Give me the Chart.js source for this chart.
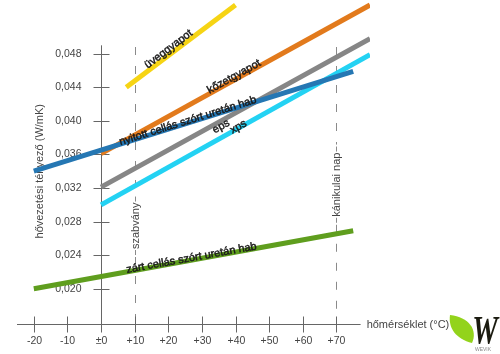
<!DOCTYPE html>
<html>
<head>
<meta charset="utf-8">
<script src="https://cdn.jsdelivr.net/npm/chart.js@4.4.0/dist/chart.umd.min.js"></script>
<style>
  html, body { margin: 0; padding: 0; background: #fff; }
  #wrap { width: 500px; height: 354px; }
</style>
</head>
<body>
<div id="wrap"><canvas id="chart" width="500" height="354"></canvas></div>
<script>
// tick values and their labels
const xTicks = [-20, -10, 0, 10, 20, 30, 40, 50, 60, 70];
const xTickLabels = ['-20', '-10', '±0', '+10', '+20', '+30', '+40', '+50', '+60', '+70'];
const yTicks = [0.020, 0.024, 0.028, 0.032, 0.036, 0.040, 0.044, 0.048];
const yTickLabels = ['0,020', '0,024', '0,028', '0,032', '0,036', '0,040', '0,044', '0,048'];

// series (temperature °C -> thermal conductivity W/mK)
const uveggyapot = [{ x: 7.5, y: 0.0440 }, { x: 40, y: 0.0538 }];
const kozetgyapot = [{ x: 0, y: 0.0361 }, { x: 80, y: 0.0538 }];
const eps = [{ x: 0, y: 0.0321 }, { x: 80, y: 0.0498 }];
const xps = [{ x: 0, y: 0.0300 }, { x: 80, y: 0.0479 }];
const nyitottCellas = [{ x: -20, y: 0.0340 }, { x: 75, y: 0.0459 }];
const zartCellas = [{ x: -20, y: 0.0200 }, { x: 75, y: 0.0269 }];

const xTitle = 'hőmérséklet (°C)';
const yTitle = 'hővezetési tényező (W/mK)';

// reference temperatures
const markerX = [10, 70];
const markerText = ['szabvány', 'kánikulai nap'];

const FONT = '"Liberation Sans", Arial, sans-serif';

// text along lines: dataset index, x value of the centre, perpendicular shift in px
const lineLabels = [
  { ds: 0, text: 'üveggyapot', at: 21, shift: -5 },
  { ds: 1, text: 'kőzetgyapot', at: 40, shift: -3 },
  { ds: 2, text: 'eps', at: 35, shift: 5 },
  { ds: 3, text: 'xps', at: 41, shift: -1 },
  { ds: 4, text: 'nyitott cellás szórt uretán hab', at: 26, shift: -2 },
  { ds: 5, text: 'zárt cellás szórt uretán hab', at: 27, shift: -2 }
];

function seg(ctx, x1, y1, x2, y2) {
  ctx.beginPath();
  ctx.moveTo(x1, y1);
  ctx.lineTo(x2, y2);
  ctx.stroke();
}

const axesPlugin = {
  id: 'axes',
  beforeDatasetsDraw(chart) {
    const { ctx, scales: { x, y } } = chart;
    const x0 = Math.round(x.getPixelForValue(0)) + 0.5;
    const yb = Math.round(y.getPixelForValue(y.min)) + 0.5;
    ctx.save();

    // dashed reference lines with vertical captions
    ctx.font = '11px ' + FONT;
    markerX.forEach((mx, i) => {
      const px = Math.round(x.getPixelForValue(mx)) + 0.5;
      const top = y.getPixelForValue(0.0488);
      const mid = i === 0 ? y.getPixelForValue(0.0275) : y.getPixelForValue(0.0324);
      const w = ctx.measureText(markerText[i]).width;
      ctx.strokeStyle = '#8a8a8a';
      ctx.lineWidth = 1;
      ctx.setLineDash([8, 11]);
      seg(ctx, px, top, px, mid - w / 2 - 8);
      seg(ctx, px, mid + w / 2 + 8, px, yb);
      ctx.setLineDash([]);
      seg(ctx, px, mid - w / 2 - 6, px, mid - w / 2 - 1);
      seg(ctx, px, mid + w / 2 + 1, px, mid + w / 2 + 6);
      ctx.save();
      ctx.translate(px, mid);
      ctx.rotate(-Math.PI / 2);
      ctx.fillStyle = '#444';
      ctx.textAlign = 'center';
      ctx.textBaseline = 'middle';
      ctx.fillText(markerText[i], 0, 0);
      ctx.restore();
    });

    // axes
    ctx.strokeStyle = '#666';
    ctx.lineWidth = 1;
    seg(ctx, x0, y.getPixelForValue(0.0490), x0, yb);
    seg(ctx, x.getPixelForValue(-25), yb, x.getPixelForValue(77.2), yb);

    ctx.fillStyle = '#444';
    ctx.font = '10.5px ' + FONT;
    ctx.textBaseline = 'middle';
    yTicks.forEach((v, i) => {
      const py = Math.round(y.getPixelForValue(v)) + 0.5;
      seg(ctx, x0 - 8, py, x0 + 8, py);
      ctx.textAlign = 'right';
      ctx.fillText(yTickLabels[i], x0 - 20, py);
    });
    xTicks.forEach((v, i) => {
      const px = Math.round(x.getPixelForValue(v)) + 0.5;
      seg(ctx, px, yb - 8, px, yb + 8);
      ctx.textAlign = 'center';
      ctx.fillText(xTickLabels[i], px, yb + 17);
    });

    // axis titles
    ctx.font = '11px ' + FONT;
    ctx.textAlign = 'left';
    ctx.fillText(xTitle, x.getPixelForValue(79), yb);
    ctx.save();
    ctx.translate(40, y.getPixelForValue(0.0340));
    ctx.rotate(-Math.PI / 2);
    ctx.textAlign = 'center';
    ctx.fillText(yTitle, 0, 0);
    ctx.restore();

    ctx.restore();
  },
  afterDatasetsDraw(chart) {
    const { ctx, scales: { x, y } } = chart;
    ctx.save();
    ctx.font = '11px ' + FONT;
    ctx.fillStyle = '#1a1a1a';
    ctx.strokeStyle = '#1a1a1a';
    ctx.lineWidth = 0.45;
    ctx.textAlign = 'center';
    ctx.textBaseline = 'middle';
    lineLabels.forEach(l => {
      const pts = chart.data.datasets[l.ds].data;
      const a = pts[0], b = pts[pts.length - 1];
      const ax = x.getPixelForValue(a.x), ay = y.getPixelForValue(a.y);
      const bx = x.getPixelForValue(b.x), by = y.getPixelForValue(b.y);
      const t = (l.at - a.x) / (b.x - a.x);
      const cx = ax + (bx - ax) * t, cy = ay + (by - ay) * t;
      ctx.save();
      ctx.translate(cx, cy);
      ctx.rotate(Math.atan2(by - ay, bx - ax));
      ctx.fillText(l.text, 0, l.shift);
      ctx.strokeText(l.text, 0, l.shift);
      ctx.restore();
    });

    // logo
    ctx.fillStyle = '#93d31b';
    ctx.beginPath();
    ctx.moveTo(450, 315);
    ctx.bezierCurveTo(469, 317, 478, 330, 472, 343);
    ctx.bezierCurveTo(456, 339, 448, 328, 450, 315);
    ctx.fill();
    ctx.save();
    ctx.translate(485, 343);
    ctx.scale(0.72, 1);
    ctx.fillStyle = '#1b1b10';
    ctx.font = 'italic bold 40px "Liberation Serif", serif';
    ctx.textAlign = 'center';
    ctx.textBaseline = 'alphabetic';
    ctx.fillText('W', 0, 0);
    ctx.restore();
    ctx.fillStyle = '#888';
    ctx.font = '5px ' + FONT;
    ctx.fillText('WEVIK', 483, 350);
    ctx.restore();
  }
};

function ds(label, data, color, order) {
  return {
    label: label,
    data: data,
    borderColor: color,
    backgroundColor: color,
    borderWidth: 5,
    borderCapStyle: 'butt',
    pointRadius: 0,
    fill: false,
    tension: 0,
    order: order
  };
}

new Chart(document.getElementById('chart'), {
  type: 'line',
  data: {
    datasets: [
      ds('üveggyapot', uveggyapot, '#f6d414', 1),
      ds('kőzetgyapot', kozetgyapot, '#e27a1c', 1),
      ds('eps', eps, '#868686', 1),
      ds('xps', xps, '#23d2f3', 1),
      ds('nyitott cellás szórt uretán hab', nyitottCellas, '#2577b3', 0),
      ds('zárt cellás szórt uretán hab', zartCellas, '#5f9e1e', 1)
    ]
  },
  options: {
    responsive: false,
    devicePixelRatio: 1,
    animation: false,
    layout: { padding: { left: 17, right: 130, top: 0, bottom: 30 } },
    plugins: { legend: { display: false }, tooltip: { enabled: false } },
    scales: {
      x: { type: 'linear', min: -25, max: 80, display: false },
      y: { type: 'linear', min: 0.0158, max: 0.0544, display: false }
    }
  },
  plugins: [axesPlugin]
});
</script>
</body>
</html>
